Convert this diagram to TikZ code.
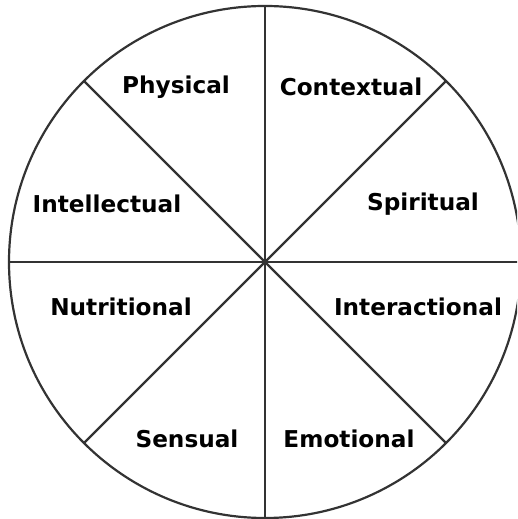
\documentclass[tikz,border=0pt]{standalone}
\usepackage{fontspec}
\setsansfont{DejaVu Sans}
\usetikzlibrary{positioning,calc}

\definecolor{rimgray}{HTML}{333333}

\begin{document}
\begin{tikzpicture}[x=0.02cm, y=-0.02cm,
    spoke/.style={rimgray, line width=1.25pt},
    sector/.style={font=\sffamily\bfseries\fontsize{13.2}{15}\selectfont, text=black, inner sep=0pt}]
    \useasboundingbox (0,0) rectangle (517,519);

    % hub and rim points
    \coordinate (hub) at (265,262);
    \coordinate (n)  at ($(hub)+(0,-256)$);
    \coordinate (s)  at ($(hub)+(0,256)$);
    \coordinate (w)  at ($(hub)+(-256,0)$);
    \coordinate (e)  at ($(hub)+(256,0)$);
    \coordinate (nw) at ($(hub)+(-181,-181)$);
    \coordinate (se) at ($(hub)+(181,181)$);
    \coordinate (ne) at ($(hub)+(181,-181)$);
    \coordinate (sw) at ($(hub)+(-181,181)$);

    % the wheel
    \begin{scope}
        \clip (0,0) rectangle (517,519);
        \draw[spoke] (hub) circle[radius=256];
        \draw[spoke] (n) -- (s);
        \draw[spoke] (w) -- (e);
        \draw[spoke] (nw) -- (se);
        \draw[spoke] (ne) -- (sw);
    \end{scope}

    % sector names
    \node[sector] (physical)      at (176,87)  {Physical};
    \node[sector] (contextual)    at (351,87)  {Contextual};
    \node[sector] (intellectual)  at (107,204) {Intellectual};
    \node[sector] (spiritual)     at (423,204) {Spiritual};
    \node[sector] (nutritional)   at (121,307) {Nutritional};
    \node[sector] (interactional) at (418,307) {Interactional};
    \node[sector] (sensual)       at (187,439) {Sensual};
    \node[sector] (emotional)     at (349,439) {Emotional};
\end{tikzpicture}
\end{document}
